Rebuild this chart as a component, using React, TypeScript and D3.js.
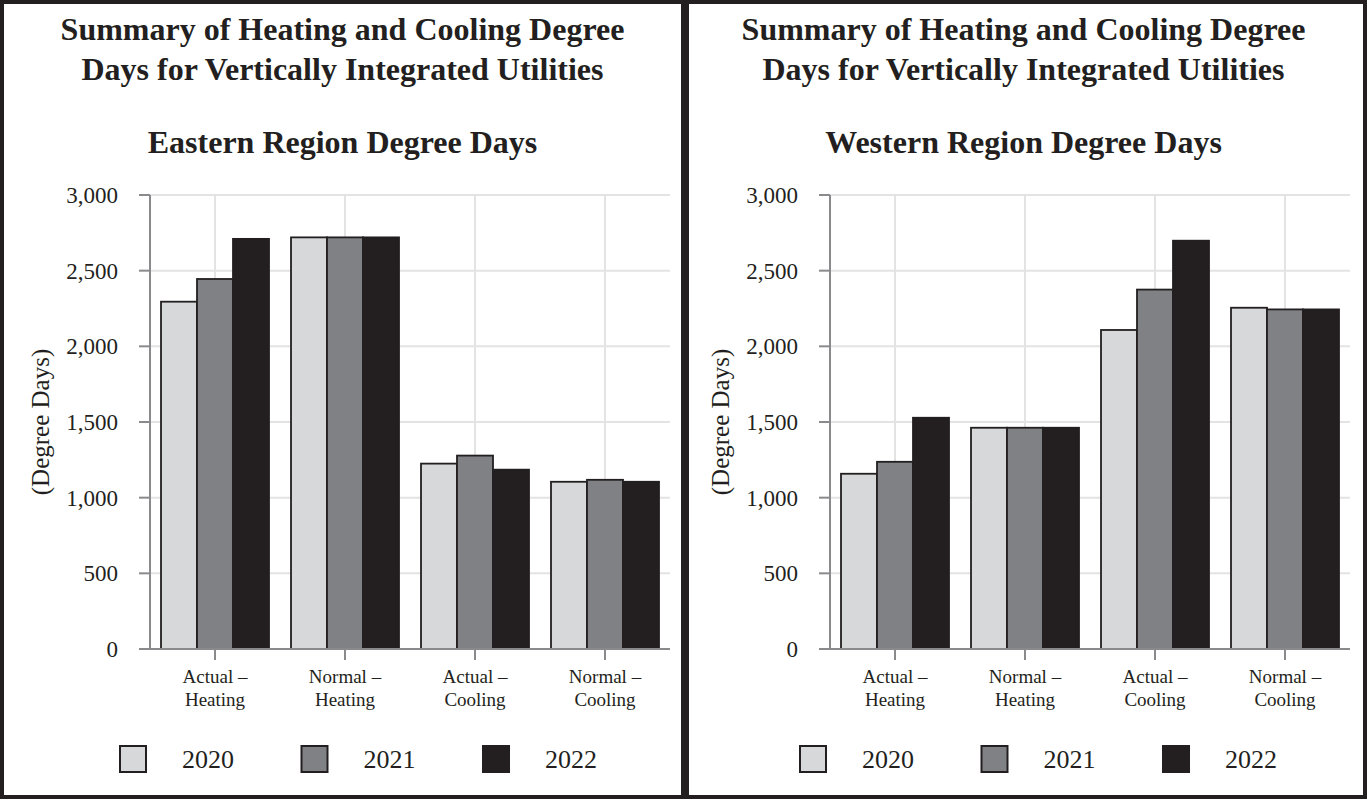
import React, { useEffect } from 'react'
import * as d3 from 'd3'

const categories = ['Actual – Heating', 'Normal – Heating', 'Actual – Cooling', 'Normal – Cooling']
const years = ['2020', '2021', '2022']
const yearColors = ['#d7d8da', '#808184', '#231f20']

// rows = categories, cols = years
const easternValues = [
  [2295, 2445, 2710],
  [2720, 2720, 2720],
  [1225, 1278, 1185],
  [1105, 1118, 1105],
]
const westernValues = [
  [1158, 1237, 1528],
  [1462, 1462, 1462],
  [2108, 2375, 2698],
  [2255, 2244, 2244],
]
const yTicks = [0, 500, 1000, 1500, 2000, 2500, 3000]

const W = 1367
const H = 799
const INK = '#231f20'
const SERIF = '"Liberation Serif", "Times New Roman", Times, serif'

type PanelProps = {
  x0: number // left edge of the panel
  pw: number // panel width
  subtitle: string
  values: number[][]
}

function Panel({ x0, pw, subtitle, values }: PanelProps) {
  const axisX = x0 + 146
  const plotTop = 195
  const plotBottom = 649
  const plotRight = axisX + 520

  const x = d3.scaleBand<string>().domain(categories).range([axisX, plotRight]).padding(0)
  const xSub = d3
    .scaleBand<string>()
    .domain(years)
    .range([0, x.bandwidth()])
    .paddingInner(0)
    .paddingOuter(0.3056)
  const y = d3.scaleLinear().domain([0, 3000]).range([plotBottom, plotTop])
  const fmt = d3.format(',')
  const cx = x0 + pw / 2

  return (
    <g>
      {/* titles */}
      <text x={cx} y={40} textAnchor="middle" fontFamily={SERIF} fontWeight={700} fontSize={32} fill={INK}>
        Summary of Heating and Cooling Degree
      </text>
      <text x={cx} y={80} textAnchor="middle" fontFamily={SERIF} fontWeight={700} fontSize={32} fill={INK}>
        Days for Vertically Integrated Utilities
      </text>
      <text x={cx} y={153} textAnchor="middle" fontFamily={SERIF} fontWeight={700} fontSize={32} fill={INK}>
        {subtitle}
      </text>

      {/* grid */}
      {yTicks.map((t) => (
        <line key={'h' + t} x1={axisX} x2={plotRight} y1={y(t)} y2={y(t)} stroke="#e3e3e3" strokeWidth={2} />
      ))}
      {categories.map((c) => (
        <line
          key={'v' + c}
          x1={x(c)! + x.bandwidth() / 2}
          x2={x(c)! + x.bandwidth() / 2}
          y1={plotTop}
          y2={plotBottom}
          stroke="#e3e3e3"
          strokeWidth={2}
        />
      ))}

      {/* bars */}
      {categories.map((c, ci) =>
        years.map((yr, yi) => {
          const v = values[ci][yi]
          return (
            <rect
              key={c + yr}
              x={x(c)! + xSub(yr)!}
              y={y(v)}
              width={xSub.bandwidth()}
              height={y(0) - y(v)}
              fill={yearColors[yi]}
              stroke={INK}
              strokeWidth={1.8}
            />
          )
        })
      )}

      {/* y axis */}
      <line x1={axisX} x2={axisX} y1={plotTop} y2={plotBottom} stroke="#8a8a8d" strokeWidth={2} />
      {yTicks.map((t) => (
        <g key={'t' + t}>
          <line x1={axisX - 11} x2={axisX} y1={y(t)} y2={y(t)} stroke="#8a8a8d" strokeWidth={2} />
          <text
            x={axisX - 32}
            y={y(t)}
            dy="0.35em"
            textAnchor="end"
            fontFamily={SERIF}
            fontSize={23}
            fill={INK}
          >
            {fmt(t)}
          </text>
        </g>
      ))}
      <text
        transform={`translate(${axisX - 110},${(plotTop + plotBottom) / 2}) rotate(-90)`}
        textAnchor="middle"
        dy="0.35em"
        fontFamily={SERIF}
        fontSize={25}
        fill={INK}
      >
        (Degree Days)
      </text>

      {/* x axis */}
      <line x1={axisX} x2={plotRight} y1={plotBottom} y2={plotBottom} stroke="#8a8a8d" strokeWidth={2} />
      {categories.map((c) => {
        const mx = x(c)! + x.bandwidth() / 2
        const [a, b] = c.split(' – ')
        return (
          <g key={'x' + c}>
            <line x1={mx} x2={mx} y1={plotBottom} y2={plotBottom + 11} stroke="#8a8a8d" strokeWidth={2} />
            <text x={mx} y={683} textAnchor="middle" fontFamily={SERIF} fontSize={19} fill={INK}>
              {a + ' –'}
            </text>
            <text x={mx} y={706} textAnchor="middle" fontFamily={SERIF} fontSize={19} fill={INK}>
              {b}
            </text>
          </g>
        )
      })}

      {/* legend */}
      {years.map((yr, i) => {
        const sx = axisX - 30 + i * 181.5
        return (
          <g key={'l' + yr}>
            <rect x={sx} y={746} width={26} height={26} fill={yearColors[i]} stroke={INK} strokeWidth={2} />
            <text x={sx + 62} y={768} fontFamily={SERIF} fontSize={26} fill={INK}>
              {yr}
            </text>
          </g>
        )
      })}
    </g>
  )
}

export default function App() {
  useEffect(() => {
    document.body.style.margin = '0'
  }, [])

  return (
    <svg
      width={W}
      height={H}
      viewBox={`0 0 ${W} ${H}`}
      style={{ position: 'absolute', left: 0, top: 0, background: '#fff' }}
    >
      <rect x={0} y={0} width={W} height={H} fill="#fff" />
      <Panel x0={4} pw={677} subtitle="Eastern Region Degree Days" values={easternValues} />
      <Panel x0={684} pw={679} subtitle="Western Region Degree Days" values={westernValues} />

      {/* frame */}
      <rect x={0} y={0} width={W} height={4} fill={INK} />
      <rect x={0} y={H - 4} width={W} height={4} fill={INK} />
      <rect x={0} y={0} width={4} height={H} fill={INK} />
      <rect x={W - 4} y={0} width={4} height={H} fill={INK} />
      <rect x={681} y={0} width={8} height={H} fill={INK} />
    </svg>
  )
}
